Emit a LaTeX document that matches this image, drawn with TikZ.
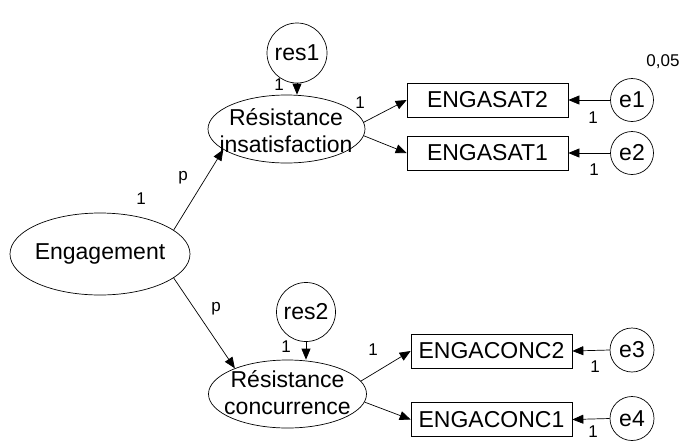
\documentclass[tikz,border=0pt]{standalone}
\usepackage{fontspec}
\setmainfont{Liberation Sans}
\usetikzlibrary{shapes.geometric,arrows.meta}
\begin{document}
\begin{tikzpicture}[x=1pt,y=-1pt,
  big/.style={font=\fontsize{23}{27}\selectfont},
  txt/.style={big, inner sep=0pt, align=center},
  lab/.style={font=\fontsize{17}{19}\selectfont, inner sep=0pt},
  latent/.style={draw, ellipse, inner sep=0pt, line width=0.7pt},
  obs/.style={draw, rectangle, inner sep=0pt, minimum width=161pt, minimum height=34pt, line width=0.7pt, big},
  err/.style={draw, circle, inner sep=0pt, line width=0.7pt},
  conn/.style={line width=0.7pt, -{Triangle[length=11pt,width=9pt]}}
]
\useasboundingbox (0,0) rectangle (680,440);

\node[latent, minimum width=180pt, minimum height=82pt] (eng) at (100,254) {};
\node[txt] (engt) at (eng.center) {Engagement};
\node[latent, minimum width=157pt, minimum height=68pt] (insat) at (286.5,129) {};
\node[txt] (insatt) at (286,131) {Résistance\\insatisfaction};
\node[latent, minimum width=158pt, minimum height=68pt] (conc) at (287.5,394) {};
\node[txt] (conct) at (287.5,393) {Résistance\\concurrence};

\node[err, minimum size=60pt] (res1) at (297,53) {};
\node[txt] at (res1.center) {res1};
\node[err, minimum size=59pt] (res2) at (306,312) {};
\node[txt] at (res2.center) {res2};

\node[obs] (sat2) at (487.5,100) {ENGASAT2};
\node[obs] (sat1) at (487.5,153) {ENGASAT1};
\node[obs] (con2) at (491.5,351) {ENGACONC2};
\node[obs] (con1) at (491.5,419.5) {ENGACONC1};

\node[err, minimum size=43pt] (e1) at (632,100) {};
\node[txt] at (e1.center) {e1};
\node[err, minimum size=43pt] (e2) at (632,153) {};
\node[txt] at (e2.center) {e2};
\node[err, minimum size=44pt] (e3) at (632,350) {};
\node[txt] at (e3.center) {e3};
\node[err, minimum size=44pt] (e4) at (632,418.5) {};
\node[txt] at (e4.center) {e4};

\draw[conn] (eng.18) -- (insat.198);
\draw[conn] (eng.-18) -- (conc.154);
\draw[conn] (res1.south) -- (res1.south |- insat.north);
\draw[conn] (res2.south) -- (res2.south |- conc.north);
\draw[conn] (insat.5) -- (sat2.west);
\draw[conn] (insat.-5) -- (sat1.west);
\draw[conn] (conc.10) -- (con2.west);
\draw[conn] (conc.-6) -- (con1.west);
\draw[conn] (e1.west) -- (sat2.east);
\draw[conn] (e2.west) -- (sat1.east);
\draw[conn] (e3.west) -- (con2.east);
\draw[conn] (e4.west) -- (con1.east);

\node[lab] (l1) at (279,85) {1};
\node[lab] (l2) at (360,103) {1};
\node[lab] (l3) at (593,118) {1};
\node[lab] (l4) at (594,170) {1};
\node[lab] (l5) at (663,62) {0,05};
\node[lab] (l6) at (183,178) {p};
\node[lab] (l7) at (141,199) {1};
\node[lab] (l8) at (216,309) {p};
\node[lab] (l9) at (286,347) {1};
\node[lab] (l10) at (373,350) {1};
\node[lab] (l11) at (595,367) {1};
\node[lab] (l12) at (593,432) {1};
\end{tikzpicture}
\end{document}
